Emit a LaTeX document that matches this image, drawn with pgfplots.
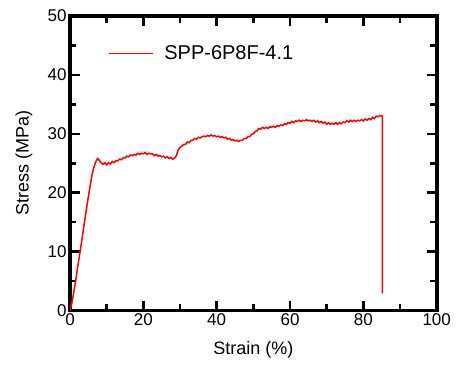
\documentclass[border=0pt]{standalone}
\usepackage{fontspec}
\setmainfont{Liberation Sans}
\usepackage{pgfplots}
\pgfplotsset{compat=1.18}
\begin{document}
\begin{tikzpicture}
\path[use as bounding box] (-70bp,-56.5bp) rectangle (388bp,310.5bp);
\begin{axis}[
  scale only axis,
  width=366.7bp, height=294.5bp,
  xmin=0, xmax=100, ymin=0, ymax=50,
  xtick={0,20,...,100}, ytick={0,10,...,50},
  minor x tick num=1, minor y tick num=1,
  tick align=inside,
  axis line style={line width=3.6bp},
  major tick style={black, line width=2.6bp},
  minor tick style={black, line width=2.6bp},
  major tick length=10bp, minor tick length=6.5bp,
  /pgf/number format/assume math mode=true,
  ticklabel style={font=\fontsize{17bp}{20bp}\selectfont},
  label style={font=\fontsize{18bp}{21bp}\selectfont},
  xlabel={Strain (\%)}, ylabel={Stress (MPa)},
  xlabel style={at={(axis description cs:0.5,0)}, anchor=center, yshift=-39.5bp},
  ylabel style={at={(axis description cs:-0.1254,0.5)}, anchor=center},
  legend style={draw=none, fill=none, at={(0.104,0.873)}, anchor=west, inner sep=0pt,
    font=\fontsize{20bp}{24bp}\selectfont, column sep=0pt,
    nodes={inner sep=0pt}},
  legend image code/.code={\draw[red, line width=1.6bp] (0bp,0bp) -- (43.4bp,0bp);},
  /tikz/every odd column/.append style={column sep=11bp},
]
\addplot[red, line width=1.5bp] coordinates {
(0,0) (0.5,1.2) (1,3) (1.5,4.8) (2,7) (2.5,9) (3,11) (3.5,13.1) (4,15.2) (4.5,17.3)
(5,19.3) (5.5,21.2) (6,23) (6.5,24.3) (7,25.2) (7.5,25.8) (8,25.5) (8.5,25.1) (9,24.8)
(9.5,25.1) (10,24.7) (10.5,25.1) (11,24.9) (11.5,25.3) (12,25.1) (12.5,25.4) (13,25.4)
(13.5,25.7) (14,25.6) (14.5,25.9) (15,25.9) (15.5,26.2) (16,26.1) (16.5,26.4) (17,26.3)
(17.5,26.5) (18,26.4) (18.5,26.7) (19,26.5) (19.5,26.7) (20,26.6) (20.5,26.8) (21,26.5)
(21.5,26.7) (22,26.6) (22.5,26.6) (23,26.3) (23.5,26.5) (24,26.2) (24.5,26.3) (25,26.1)
(25.5,26.2) (26,25.9) (26.5,26.1) (27,25.8) (27.5,26.0) (28,25.7) (28.6,25.9) (29,26.3)
(29.5,27.2) (30,27.7) (30.5,27.9) (31,28.2) (31.5,28.2) (32,28.6) (32.5,28.5) (33,28.9)
(33.5,28.9) (34,29.2) (34.5,29.1) (35,29.4) (35.5,29.3) (36,29.5) (36.5,29.6) (37,29.5)
(37.5,29.7) (38,29.6) (38.5,29.8) (39,29.6) (39.5,29.7) (40,29.5) (40.5,29.6) (41,29.4)
(41.5,29.5) (42,29.3) (42.5,29.4) (43,29.1) (43.5,29.2) (44,28.9) (44.5,29.0) (45,28.8)
(45.5,28.9) (46,28.7) (46.5,28.9) (47,28.9) (47.5,29.2) (48,29.2) (48.5,29.5) (49,29.5)
(49.5,29.9) (50,30.0) (50.5,30.4) (51,30.5) (51.5,30.9) (52,30.8) (52.5,31.1) (53,30.9)
(53.5,31.1) (54,30.9) (54.5,31.2) (55,31.1) (55.5,31.3) (56,31.1) (56.5,31.4) (57,31.3)
(57.5,31.5) (58,31.4) (58.5,31.7) (59,31.6) (59.5,31.9) (60,31.8) (60.5,32.1) (61,31.9)
(61.5,32.2) (62,32.1) (62.5,32.3) (63,32.1) (63.5,32.3) (64,32.2) (64.5,32.4) (65,32.2)
(65.5,32.3) (66,32.1) (66.5,32.3) (67,32.0) (67.5,32.2) (68,31.9) (68.5,32.1) (69,31.8)
(69.5,32.0) (70,31.6) (70.5,31.9) (71,31.6) (71.5,31.8) (72,31.6) (72.5,31.9) (73,31.6)
(73.5,31.9) (74,31.7) (74.5,32.0) (75,31.9) (75.5,32.2) (76,32.0) (76.5,32.3) (77,32.1)
(77.5,32.3) (78,32.1) (78.5,32.3) (79,32.2) (79.5,32.4) (80,32.2) (80.5,32.5) (81,32.3)
(81.5,32.6) (82,32.4) (82.5,32.8) (83,32.6) (83.5,33.0) (84,32.9) (84.5,33.1) (85.2,33.0)
(85.2,2.9)
};
\addlegendentry{SPP-6P8F-4.1}
\end{axis}
\end{tikzpicture}
\end{document}
